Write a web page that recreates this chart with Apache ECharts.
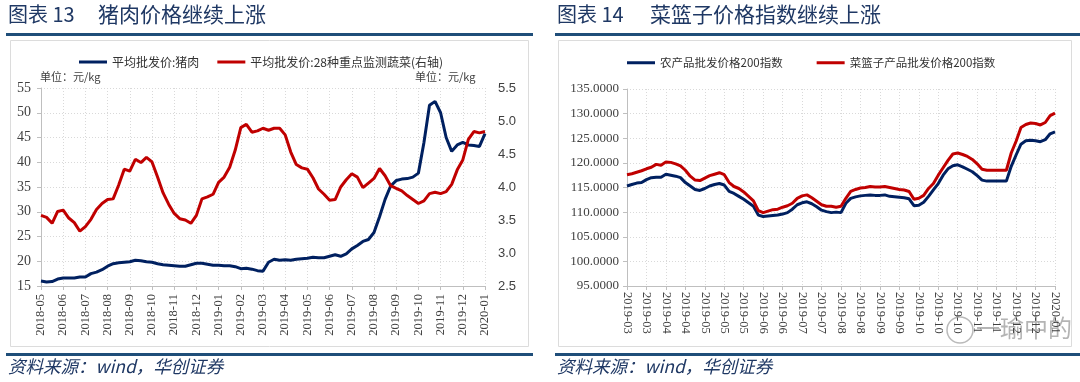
<!DOCTYPE html>
<html><head><meta charset="utf-8">
<script src="https://cdn.jsdelivr.net/npm/echarts@6/dist/echarts.min.js"></script>
<style>html,body{margin:0;padding:0;background:#fff}#c{width:1080px;height:382px}</style>
</head><body><div id="c"></div>
<script>
// ---------- Chart 13: pork vs vegetables ----------
const porkTicks = ['2018-05','2018-06','2018-07','2018-08','2018-09','2018-10','2018-11','2018-12','2019-01','2019-02','2019-03','2019-04','2019-05','2019-06','2019-07','2019-08','2019-09','2019-10','2019-11','2019-12','2020-01'];
const porkPrice = [16.0,15.8,15.9,16.4,16.6,16.6,16.6,16.8,16.8,17.5,
  17.8,18.3,19.0,19.5,19.7,19.8,19.9,20.2,20.1,19.9,
  19.8,19.5,19.3,19.2,19.1,19.0,19.0,19.3,19.6,19.6,
  19.4,19.2,19.2,19.1,19.1,18.9,18.5,18.6,18.4,18.1,
  18.0,19.8,20.4,20.2,20.3,20.2,20.4,20.5,20.6,20.8,
  20.7,20.7,21.0,21.3,21.0,21.5,22.5,23.2,24.0,24.4,
  25.8,29.0,32.5,35.2,36.3,36.6,36.7,37.0,37.8,44.0,
  51.5,52.3,50.0,45.0,42.2,43.5,44.0,43.5,43.4,43.2,45.8];
const vegPrice = [3.57,3.54,3.45,3.63,3.65,3.53,3.46,3.33,3.40,3.51,
  3.66,3.75,3.81,3.82,4.03,4.27,4.24,4.42,4.37,4.45,
  4.38,4.15,3.91,3.74,3.60,3.52,3.50,3.45,3.57,3.82,
  3.85,3.89,4.07,4.15,4.30,4.56,4.90,4.95,4.83,4.85,
  4.89,4.86,4.89,4.89,4.79,4.53,4.34,4.29,4.27,4.14,
  3.97,3.89,3.80,3.81,4.00,4.11,4.20,4.15,3.99,4.06,
  4.13,4.28,4.17,4.02,3.98,3.94,3.87,3.81,3.75,3.79,
  3.90,3.92,3.90,3.93,4.04,4.26,4.41,4.72,4.84,4.82,4.84];
const porkPerTick = 4;

// ---------- Chart 14: agricultural / vegetable-basket indices ----------
const basketTicks = ['2019-03','2019-03','2019-04','2019-04','2019-05','2019-05','2019-05','2019-06','2019-06','2019-07','2019-07','2019-08','2019-08','2019-09','2019-09','2019-10','2019-10','2019-10','2019-11','2019-11','2019-12','2019-12','2020-01'];
const agriIndex = [115.3,115.6,115.9,116.0,116.6,117.0,117.1,117.1,117.7,117.5,
  117.3,117.0,116.0,115.3,114.6,114.4,114.8,115.3,115.6,115.8,
  115.5,114.2,113.8,113.2,112.6,111.9,111.2,109.4,109.1,109.2,
  109.3,109.4,109.6,109.9,110.6,111.5,111.9,112.1,111.7,111.1,
  110.4,110.1,109.9,110.0,109.9,111.8,112.8,113.1,113.3,113.4,
  113.5,113.4,113.4,113.5,113.2,113.1,113.0,112.9,112.7,111.3,
  111.4,112.0,113.2,114.5,115.8,117.5,118.8,119.4,119.6,119.2,
  118.7,118.2,117.4,116.5,116.3,116.3,116.3,116.3,116.3,119.3,
  121.6,123.8,124.5,124.6,124.5,124.3,124.7,125.9,126.3];
const basketIndex = [117.6,117.8,118.1,118.4,118.8,119.1,119.7,119.5,120.2,120.1,
  119.8,119.4,118.5,117.3,116.5,116.4,116.9,117.4,117.7,118.0,
  117.6,116.0,115.2,114.8,114.1,113.2,112.3,110.3,109.9,110.2,
  110.5,110.6,111.0,111.3,111.8,112.8,113.3,113.5,112.9,112.2,
  111.5,111.2,111.2,111.0,111.2,112.8,114.2,114.6,114.9,115.0,
  115.2,115.1,115.1,115.2,115.0,114.8,114.6,114.5,114.2,112.6,
  112.8,113.4,114.8,115.8,117.5,119.0,120.5,121.8,122.0,121.7,
  121.3,120.7,119.8,118.7,118.5,118.5,118.5,118.5,118.5,122.0,
  124.4,127.2,127.8,128.1,128.0,127.7,128.2,129.6,130.1];
const basketPerTick = 4;

const porkCats = porkPrice.map((_, i) => 'p' + i);
const basketCats = agriIndex.map((_, i) => 'b' + i);

const NAVY = '#002060', RED = '#c00000';
const TXT = '#404040', AX = '#bfbfbf';
const grid = {type: [1, 2], color: '#d9d9d9', width: 1};
const CJK = '"Noto Sans CJK SC"';
const SERIF = '"Liberation Serif", "DejaVu Serif", serif';

const chart = echarts.init(document.getElementById('c'), null, {renderer: 'canvas'});
chart.setOption({
  animation: false,
  backgroundColor: '#fff',
  grid: [
    {left: 41, right: 595, top: 88, bottom: 96},
    {left: 627, right: 25, top: 89, bottom: 96}
  ],
  legend: [
    {data: ['平均批发价:猪肉', '平均批发价:28种重点监测蔬菜(右轴)'], left: 74, top: 51,
     icon: 'rect', itemWidth: 28, itemHeight: 3, itemGap: 18,
     textStyle: {fontSize: 12, color: '#333', fontFamily: CJK}},
    {data: ['农产品批发价格200指数', '菜篮子产品批发价格200指数'], left: 622, top: 52,
     icon: 'rect', itemWidth: 28, itemHeight: 3, itemGap: 34,
     textStyle: {fontSize: 11.5, color: '#333', fontFamily: CJK}}
  ],
  xAxis: [
    {type: 'category', gridIndex: 0, data: porkCats, boundaryGap: false,
     axisLine: {lineStyle: {color: AX}},
     axisTick: {interval: porkPerTick - 1, length: 4, lineStyle: {color: AX}},
     axisLabel: {interval: porkPerTick - 1, rotate: 90, margin: 8, color: TXT, fontSize: 12.5, fontFamily: SERIF,
       formatter: (v, i) => porkTicks[Math.round(i / porkPerTick)]},
     splitLine: {show: true, interval: porkPerTick - 1, lineStyle: grid}},
    {type: 'category', gridIndex: 1, data: basketCats, boundaryGap: false,
     axisLine: {lineStyle: {color: AX}},
     axisTick: {interval: basketPerTick - 1, length: 4, lineStyle: {color: AX}},
     axisLabel: {interval: basketPerTick - 1, rotate: -90, margin: 6, color: TXT, fontSize: 12.5, fontFamily: SERIF,
       formatter: (v, i) => basketTicks[Math.round(i / basketPerTick)]},
     splitLine: {show: true, interval: basketPerTick - 1, lineStyle: grid}}
  ],
  yAxis: [
    {type: 'value', gridIndex: 0, min: 15, max: 55, interval: 5,
     axisLine: {show: true, lineStyle: {color: AX}}, axisTick: {show: true, length: 4, lineStyle: {color: AX}},
     axisLabel: {color: TXT, fontSize: 14, fontFamily: SERIF, margin: 10},
     splitLine: {show: true, lineStyle: grid}},
    {type: 'value', gridIndex: 0, position: 'right', min: 2.5, max: 5.5, interval: 0.5,
     axisLine: {show: false}, axisTick: {show: false}, splitLine: {show: false},
     axisLabel: {color: TXT, fontSize: 13, fontFamily: '"Liberation Sans", Arial, sans-serif', margin: 13,
       formatter: v => v.toFixed(1)}},
    {type: 'value', gridIndex: 1, min: 95, max: 135, interval: 5,
     axisLine: {show: true, lineStyle: {color: AX}}, axisTick: {show: true, length: 4, lineStyle: {color: AX}},
     axisLabel: {color: TXT, fontSize: 13, fontFamily: SERIF, margin: 8, formatter: v => v.toFixed(4)},
     splitLine: {show: true, lineStyle: grid}}
  ],
  series: [
    {name: '平均批发价:猪肉', type: 'line', xAxisIndex: 0, yAxisIndex: 0, data: porkPrice,
     showSymbol: false, lineStyle: {color: NAVY, width: 3}, itemStyle: {color: NAVY}},
    {name: '平均批发价:28种重点监测蔬菜(右轴)', type: 'line', xAxisIndex: 0, yAxisIndex: 1, data: vegPrice,
     showSymbol: false, lineStyle: {color: RED, width: 3}, itemStyle: {color: RED}},
    {name: '农产品批发价格200指数', type: 'line', xAxisIndex: 1, yAxisIndex: 2, data: agriIndex,
     showSymbol: false, lineStyle: {color: NAVY, width: 3}, itemStyle: {color: NAVY}},
    {name: '菜篮子产品批发价格200指数', type: 'line', xAxisIndex: 1, yAxisIndex: 2, data: basketIndex,
     showSymbol: false, lineStyle: {color: RED, width: 3}, itemStyle: {color: RED}}
  ],
  graphic: [
    {type: 'rect', silent: true, z: -1, shape: {x: 10.5, y: 40.5, width: 518, height: 306}, style: {fill: 'none', stroke: '#dcdcdc', lineWidth: 1}},
    {type: 'rect', silent: true, z: -1, shape: {x: 558.5, y: 40.5, width: 513, height: 306}, style: {fill: 'none', stroke: '#dcdcdc', lineWidth: 1}},
    {type: 'text', left: 8, top: 4, style: {text: '图表 13', font: '20px ' + CJK, fill: '#1f3864'}},
    {type: 'text', left: 98, top: 4, style: {text: '猪肉价格继续上涨', font: '21px ' + CJK, fill: '#1f3864'}},
    {type: 'text', left: 557, top: 4, style: {text: '图表 14', font: '20px ' + CJK, fill: '#1f3864'}},
    {type: 'text', left: 650, top: 4, style: {text: '菜篮子价格指数继续上涨', font: '21px ' + CJK, fill: '#1f3864'}},
    {type: 'rect', silent: true, shape: {x: 6, y: 33, width: 527, height: 3}, style: {fill: '#1f4e79'}},
    {type: 'rect', silent: true, shape: {x: 555, y: 33, width: 525, height: 3}, style: {fill: '#1f4e79'}},
    {type: 'rect', silent: true, shape: {x: 6, y: 353, width: 527, height: 3}, style: {fill: '#1f4e79'}},
    {type: 'rect', silent: true, shape: {x: 555, y: 353, width: 525, height: 3}, style: {fill: '#1f4e79'}},
    {type: 'text', left: 8, top: 358, style: {text: '资料来源：wind，华创证券', font: 'italic 17.5px ' + CJK, fill: '#1f3864'}},
    {type: 'text', left: 557, top: 358, style: {text: '资料来源：wind，华创证券', font: 'italic 17.5px ' + CJK, fill: '#1f3864'}},
    {type: 'text', left: 40, top: 71, style: {text: '单位：元/kg', font: '11px ' + CJK, fill: TXT}},
    {type: 'text', left: 415, top: 71, style: {text: '单位：元/kg', font: '11px ' + CJK, fill: TXT}},
    {type: 'circle', silent: true, shape: {cx: 960, cy: 330, r: 13}, style: {fill: 'none', stroke: 'rgba(140,140,140,0.6)', lineWidth: 1.5}},
    {type: 'text', left: 976, top: 316, style: {text: '一瑜中的', font: '24px ' + CJK, fill: 'rgba(130,130,130,0.6)'}}
  ]
});
</script></body></html>
